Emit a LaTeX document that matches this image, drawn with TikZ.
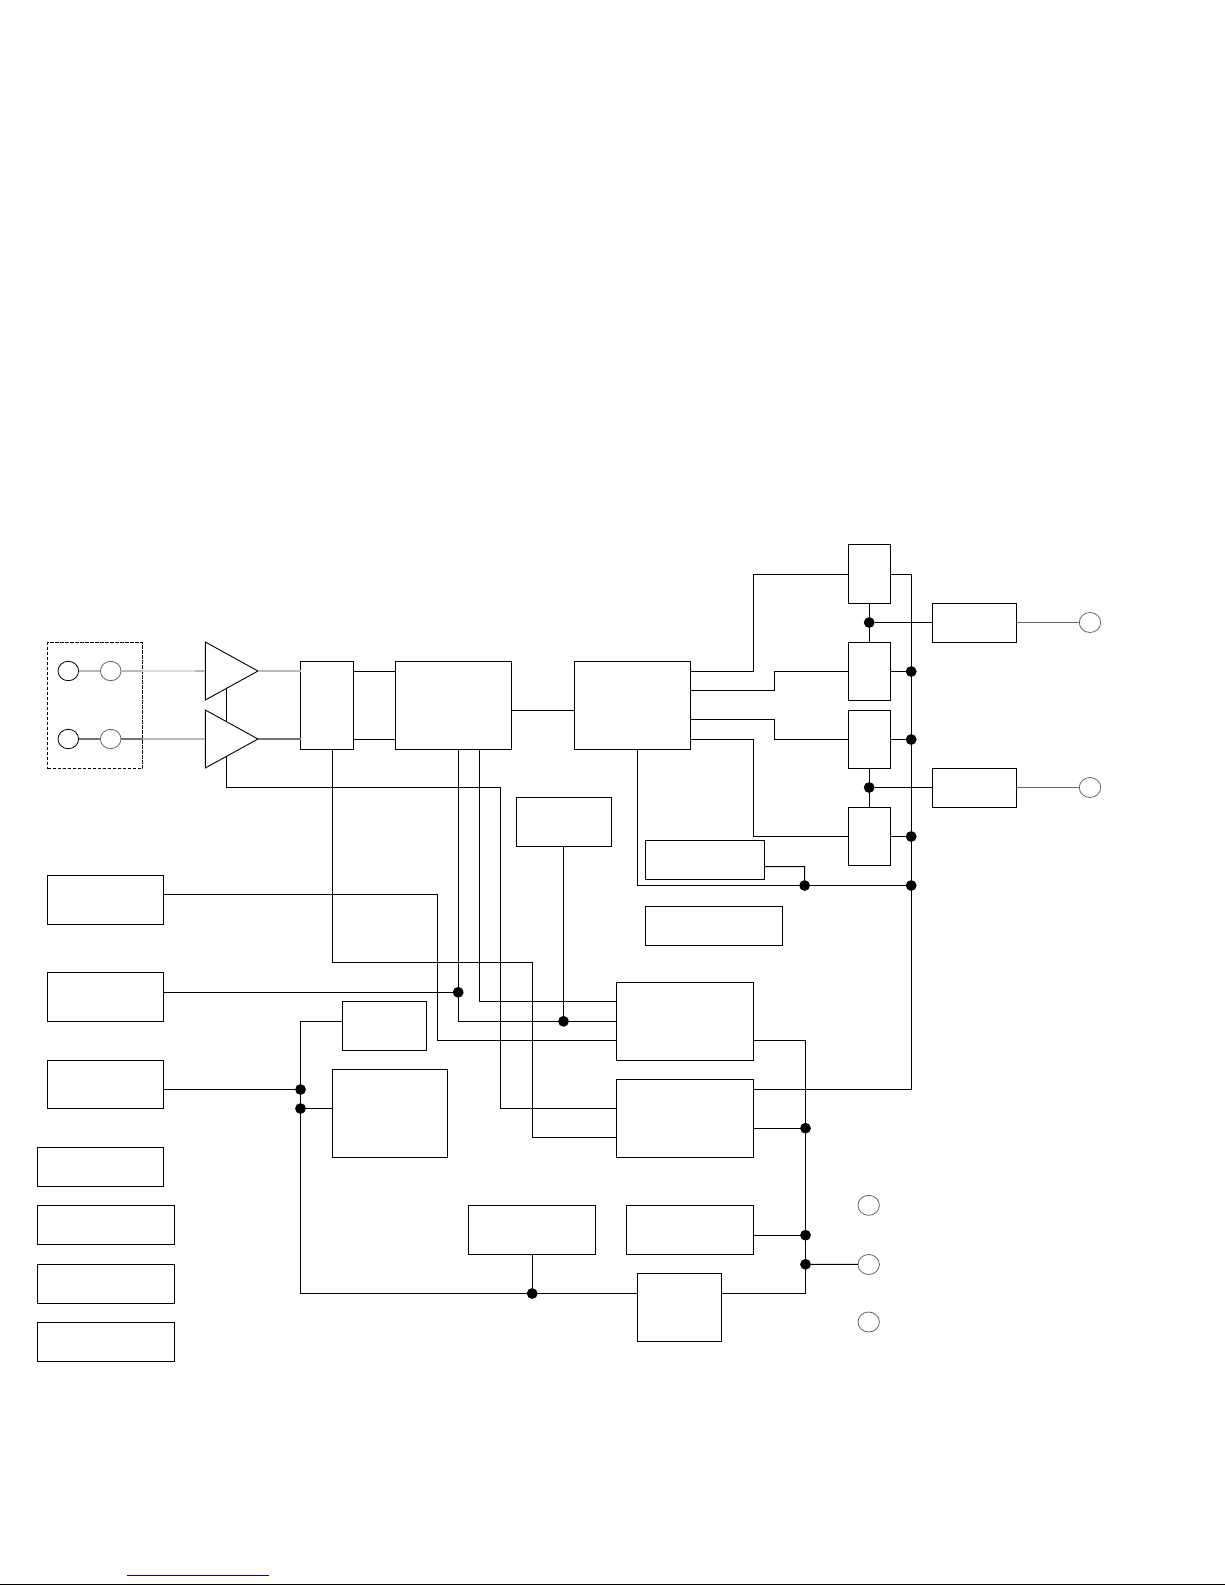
\documentclass[tikz,border=0pt]{standalone}
\usetikzlibrary{shapes.geometric}
\tikzset{
  x=0.5pt,y=-0.5pt,
  wire/.style={line width=0.5pt,black},
  box/.style={draw=black,line width=0.5pt,inner sep=0pt,outer sep=0pt},
  dotn/.style={circle,fill=black,inner sep=0pt,outer sep=0pt,minimum size=5.4pt},
  port/.style={ellipse,draw=black,line width=0.4pt,fill=white,inner sep=0pt,outer sep=0pt,minimum width=10.3pt,minimum height=9.7pt},
  portg/.style={port,draw=black!60},
  portr/.style={portg,minimum width=10.7pt,minimum height=10pt},
  amp/.style={line width=0.45pt,black,line join=miter},
  sigl/.style={line width=0.75pt,black!27},
  sigp/.style={line width=0.75pt,black!13},
  sigd/.style={line width=0.75pt,black!55},
  sigo/.style={line width=0.5pt,black!60},
}
\newcommand{\bx}[5]{\pgfmathsetmacro\bxw{(#4-#2)*0.5}\pgfmathsetmacro\bxh{(#5-#3)*0.5}\node[box,minimum width=\bxw pt,minimum height=\bxh pt] (#1) at ({(#2+#4)/2},{(#3+#5)/2}) {};}
\begin{document}
\begin{tikzpicture}
\useasboundingbox (0,0) rectangle (1225,1585);
% input group
\node[box,dash pattern=on 1.7pt off 0.8pt,minimum width=47.5pt,minimum height=63pt] (group) at (95,705.5) {};
\node[port] (c1) at (68.3,671) {};
\node[portg] (c2) at (110.7,671) {};
\node[port] (c3) at (68.3,739) {};
\node[portg] (c4) at (110.7,739) {};
% amplifiers
\coordinate (a1t) at (205.3,642); \coordinate (a1b) at (205.3,700); \coordinate (a1o) at (258,671);
\coordinate (a2t) at (205.3,710); \coordinate (a2b) at (205.3,768); \coordinate (a2o) at (258,739);
\coordinate (a1i) at (205.3,671); \coordinate (a2i) at (205.3,739);
\draw[amp] (a1t) -- (a1o) -- (a1b) -- cycle;
\draw[amp] (a2t) -- (a2o) -- (a2b) -- cycle;
\coordinate (a1e) at (226.5,688.2); \coordinate (a2e) at (226.5,722); \coordinate (a2f) at (226.5,756.2);
% boxes
\bx{mux}{300.5}{661.5}{353.5}{749.5}
\bx{bb}{395.5}{661.5}{511.5}{749.5}
\bx{cc}{574.5}{661.5}{690.5}{749.5}
\bx{s1}{848.5}{544.5}{890.5}{603.5}
\bx{s2}{848.5}{642.5}{890.5}{700.5}
\bx{s3}{848.5}{710.5}{890.5}{768.5}
\bx{s4}{848.5}{807.5}{890.5}{865.5}
\bx{r1}{932.5}{603.5}{1016.5}{642.5}
\bx{r2}{932.5}{768.5}{1016.5}{807.5}
\bx{dd}{516.5}{797.5}{611.5}{846.5}
\bx{ff}{645.5}{840.5}{764.5}{879.5}
\bx{gg}{645.5}{906.5}{782.5}{945.5}
\bx{ee}{616.5}{982.5}{753.5}{1060.5}
\bx{hh}{616.5}{1079.5}{753.5}{1157.5}
\bx{l1}{47.5}{875.5}{163.5}{924.5}
\bx{l2}{47.5}{972.5}{163.5}{1021.5}
\bx{l3}{47.5}{1060.5}{163.5}{1108.5}
\bx{m1}{342.5}{1001.5}{426.5}{1050.5}
\bx{m2}{332.5}{1069.5}{447.5}{1157.5}
\bx{n1}{468.5}{1205.5}{595.5}{1254.5}
\bx{n2}{626.5}{1205.5}{753.5}{1254.5}
\bx{n3}{637.5}{1273.5}{721.5}{1341.5}
\bx{k1}{37.5}{1147.5}{163.5}{1186.5}
\bx{k2}{37.5}{1205.5}{174.5}{1244.5}
\bx{k3}{37.5}{1264.5}{174.5}{1303.5}
\bx{k4}{37.5}{1322.5}{174.5}{1361.5}
% output ports
\node[portr] (o1) at (1090,622.5) {};
\node[portr] (o2) at (1090,787.5) {};
\node[portr] (p1) at (868.7,1205.3) {};
\node[portr] (p2) at (868.7,1264.5) {};
\node[portr] (p3) at (868.7,1322) {};
% junctions
\node[dotn] (j1) at (869.2,622.5) {};
\node[dotn] (j2) at (869.2,787.5) {};
\node[dotn] (b1) at (911.2,671.5) {};
\node[dotn] (b2) at (911.2,739.5) {};
\node[dotn] (b3) at (911.2,836.5) {};
\node[dotn] (b4) at (911.2,885.5) {};
\node[dotn] (f1) at (804.6,885.5) {};
\node[dotn] (g1) at (458.2,992.3) {};
\node[dotn] (g2) at (563.5,1021.3) {};
\node[dotn] (v1) at (300.5,1089.5) {};
\node[dotn] (v2) at (300.5,1108.5) {};
\node[dotn] (w1) at (532.2,1293.5) {};
\node[dotn] (u1) at (805.5,1128.2) {};
\node[dotn] (u2) at (805.5,1235.2) {};
\node[dotn] (u3) at (805.5,1264.3) {};
% analog inputs
\draw[sigl] (c1) -- (c2);
\draw[sigl] (c2) -- (group.east |- c2);
\draw[sigp] (group.east |- c2) -- (195,671);
\draw[sigl] (195,671) -- (a1i);
\draw[sigl] (a1o) -- (mux.west |- a1o);
\draw[sigd] (c3) -- (c4);
\draw[sigd] (c4) -- (group.east |- c4);
\draw[sigl] (group.east |- c4) -- (a2i);
\draw[sigd] (a2o) -- (mux.west |- a2o);
% wiring
\draw[wire] (mux.east |- 0,671.5) -- (bb.west |- 0,671.5);
\draw[wire] (mux.east |- 0,739.5) -- (bb.west |- 0,739.5);
\draw[wire] (bb.east |- 0,710.5) -- (cc.west |- 0,710.5);
\draw[wire] (a1e) -- (a2e);
\draw[wire] (a2f) |- (500.5,787.5) |- (hh.west |- 0,1108.5);
\draw[wire] (332.5,749.5) |- (532.5,962.5) |- (hh.west |- 0,1137.5);
\draw[wire] (cc.east |- 0,671.5) -- (753.5,671.5) |- (s1.west |- 0,574.5);
\draw[wire] (cc.east |- 0,690.5) -- (774.5,690.5) |- (s2.west |- 0,671.5);
\draw[wire] (cc.east |- 0,719.5) -- (774.5,719.5) |- (s3.west |- 0,739.5);
\draw[wire] (cc.east |- 0,739.5) -- (753.5,739.5) |- (s4.west |- 0,836.5);
\draw[wire] (s1.east |- 0,574.5) -| (911.5,1089.5) -- (hh.east |- 0,1089.5);
\draw[wire] (s2.east |- b1) -- (b1);
\draw[wire] (s3.east |- b2) -- (b2);
\draw[wire] (s4.east |- b3) -- (b3);
\draw[wire] (s1.south -| j1) -- (j1);
\draw[wire] (s2.north -| j1) -- (j1);
\draw[wire] (s3.south -| j2) -- (j2);
\draw[wire] (s4.north -| j2) -- (j2);
\draw[wire] (j1) -- (r1.west |- j1);
\draw[wire] (j2) -- (r2.west |- j2);
\draw[sigo] (r1.east |- o1) -- (o1);
\draw[sigo] (r2.east |- o2) -- (o2);
\draw[wire] (637.5,749.5) |- (b4);
\draw[wire] (ff.east |- 0,866.5) -- (804.5,866.5) -- (f1);
\draw[wire] (458.5,749.5) |- (ee.west |- 0,1021.5);
\draw[wire] (479.5,749.5) |- (ee.west |- 0,1001.5);
\draw[wire] (563.5,846.5) -- (g2);
\draw[wire] (l1.east |- 0,894.5) -| (437.5,1040.5) -- (ee.west |- 0,1040.5);
\draw[wire] (l2.east |- 0,992.5) -- (g1.west |- 0,992.5);
\draw[wire] (l3.east |- v1) -- (v1);
\draw[wire] (m1.west |- 0,1021.5) -| (300.5,1293.5) -- (n3.west |- 0,1293.5);
\draw[wire] (m2.west |- v2) -- (v2);
\draw[wire] (532.5,1254.5) -- (532.5,1293.5);
\draw[wire] (ee.east |- 0,1040.5) -| (805.5,1293.5) -- (n3.east |- 0,1293.5);
\draw[wire] (hh.east |- 0,1128.5) -- (805.5,1128.5);
\draw[wire] (n2.east |- 0,1235.5) -- (805.5,1235.5);
\draw[wire] (u3) -- (p2);
% foot of page
\draw[line width=0.5pt,blue!80!black] (127,1575.5) -- (268.5,1575.5);
\draw[line width=0.5pt,black] (0,1584.5) -- (1225,1584.5);
\end{tikzpicture}
\end{document}
